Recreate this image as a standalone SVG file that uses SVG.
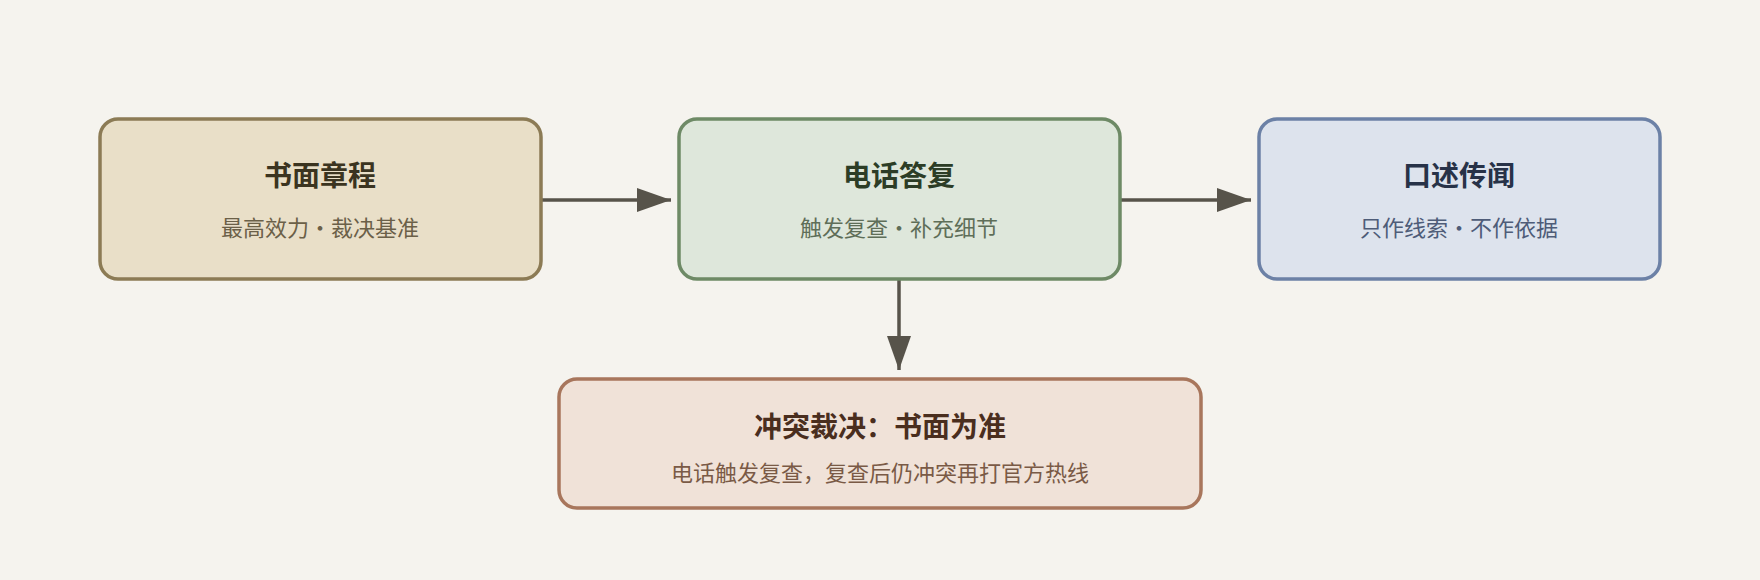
<svg xmlns="http://www.w3.org/2000/svg" width="1760" height="580" viewBox="0 0 1760 580">
<style>
.t{font-family:"Noto Sans CJK SC","Noto Sans",sans-serif;font-size:28px;font-weight:bold;text-anchor:middle}
.s{font-family:"Noto Sans CJK SC","Noto Sans",sans-serif;font-size:22px;text-anchor:middle}
.c{stroke:#57534a;stroke-width:3.5;fill:none}
</style>
<defs><marker id="a" markerWidth="10" markerHeight="8" refX="9" refY="4" orient="auto" markerUnits="userSpaceOnUse" viewBox="0 0 10 8"><path d="M0,0L10,4L0,8z" fill="#57534a"/></marker>
<marker id="b" viewBox="0 0 34 24" refX="34" refY="12" markerWidth="34" markerHeight="24" orient="auto" markerUnits="userSpaceOnUse"><path d="M0,0L34,12L0,24z" fill="#57534a"/></marker></defs>
<rect width="1760" height="580" fill="#f5f3ee"/>
<g id="edges">
<line class="c" x1="541" y1="200" x2="671" y2="200" marker-end="url(#b)"/>
<line class="c" x1="1120" y1="200" x2="1251" y2="200" marker-end="url(#b)"/>
<line class="c" x1="899" y1="279" x2="899" y2="370" marker-end="url(#b)"/>
</g>
<g id="n1"><rect x="100" y="119" width="441" height="160" rx="18" fill="#e9dfc8" stroke="#8c7b55" stroke-width="3.5"/>
<text class="t" x="320" y="186" fill="#3b3420">书面章程</text><text class="s" x="320" y="236" fill="#6b6048">最高效力·裁决基准</text></g>
<g id="n2"><rect x="679" y="119" width="441" height="160" rx="18" fill="#dee7db" stroke="#6e8a66" stroke-width="3.5"/>
<text class="t" x="899" y="186" fill="#2c3d26">电话答复</text><text class="s" x="899" y="236" fill="#5e6e58">触发复查·补充细节</text></g>
<g id="n3"><rect x="1259" y="119" width="401" height="160" rx="18" fill="#dde3ed" stroke="#6c81a6" stroke-width="3.5"/>
<text class="t" x="1459" y="186" fill="#273248">口述传闻</text><text class="s" x="1459" y="236" fill="#4e5c78">只作线索·不作依据</text></g>
<g id="n4"><rect x="559" y="379" width="642" height="129" rx="18" fill="#f0e2d8" stroke="#a8765c" stroke-width="3.5"/>
<text class="t" x="880" y="437" fill="#4a2e1e">冲突裁决：书面为准</text><text class="s" x="880" y="481" fill="#7a5a46">电话触发复查，复查后仍冲突再打官方热线</text></g>
</svg>
